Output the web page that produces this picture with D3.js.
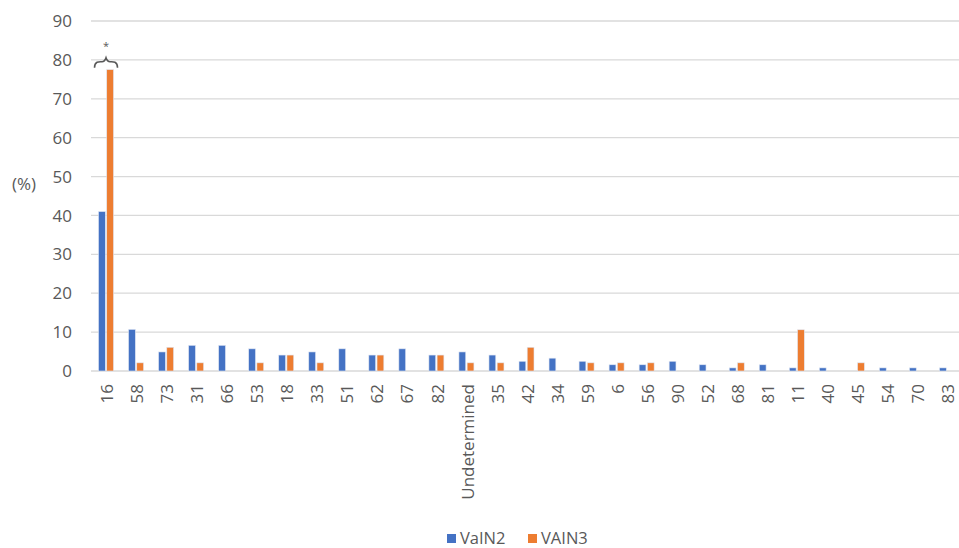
<!DOCTYPE html>
<html><head><meta charset="utf-8">
<script src="https://cdn.jsdelivr.net/npm/d3@7"></script>
<style>body{margin:0;background:#fff;} text{font-family:"Open Sans",sans-serif;fill:#595959;}</style>
</head><body><svg id="c" width="959" height="548"></svg>
<script>
const categories = ["16","58","73","31","66","53","18","33","51","62","67","82","Undetermined","35","42","34","59","6","56","90","52","68","81","11","40","45","54","70","83"];
const vain2 = [41.0,10.7,4.9,6.6,6.6,5.7,4.1,4.9,5.7,4.1,5.7,4.1,4.9,4.1,2.5,3.3,2.5,1.6,1.6,2.5,1.6,0.8,1.6,0.8,0.8,0,0.8,0.8,0.8];
const vain3 = [77.5,2.1,6.1,2.1,0,2.1,4.1,2.1,0,4.1,0,4.1,2.1,2.1,6.1,0,2.1,2.1,2.1,0,0,2.1,0,10.6,0,2.1,0,0,0];
const yTicks = [0,10,20,30,40,50,60,70,80,90];
const seriesNames = ["VaIN2","VAIN3"];
const colors = ["#4472C4","#ED7D31"];

const svg = d3.select("#c");
const x = d3.scaleBand().domain(categories).range([91, 962]);
const y = d3.scaleLinear().domain([0,90]).range([371, 21]);
const bw = 6.8, gap = 1.4;

svg.append("g").selectAll("line").data(yTicks).join("line")
  .attr("x1",91).attr("x2",959).attr("y1",d=>y(d)).attr("y2",d=>y(d))
  .attr("stroke","#d9d9d9").attr("stroke-width",1.3);

svg.append("g").selectAll("text").data(yTicks).join("text")
  .attr("x",72).attr("y",d=>y(d)).attr("dy","0.36em").attr("text-anchor","end")
  .style("font-size","17px").text(d=>d);
svg.append("text").attr("x",12).attr("y",184).attr("dy","0.36em").style("font-size","17px").text("(%)");

const series = [vain2, vain3];
series.forEach((vals,si)=>{
  svg.append("g").selectAll("rect").data(categories).join("rect")
    .attr("x",(d)=>x(d)+x.bandwidth()/2 + (si===0 ? -bw-gap/2 : gap/2))
    .attr("width",bw)
    .attr("y",(d,i)=>y(vals[i]))
    .attr("height",(d,i)=>y(0)-y(vals[i]))
    .attr("fill",colors[si])
    .attr("stroke",(d,i)=>vals[i]>0?"#dfe6f3":"none").attr("stroke-width",0.6);
});

svg.append("g").selectAll("text").data(categories).join("text")
  .attr("transform",d=>`translate(${x(d)+x.bandwidth()/2+1},384) rotate(-90)`)
  .attr("text-anchor","end").attr("dy","0.36em")
  .style("font-size","17px").text(d=>d);

const cx = x(categories[0]) + x.bandwidth()/2;
const by = y(78.5);
svg.append("path")
  .attr("d",`M${cx-11.5},${by+2} C${cx-11.5},${by-5} ${cx-6},${by-4} ${cx-4},${by-4} C${cx-2},${by-4} ${cx-1},${by-5} ${cx},${by-8} C${cx+1},${by-5} ${cx+2},${by-4} ${cx+4},${by-4} C${cx+6},${by-4} ${cx+11.5},${by-5} ${cx+11.5},${by+2}`)
  .attr("fill","none").attr("stroke","#595959").attr("stroke-width",1.6);
svg.append("text").attr("x",cx).attr("y",y(84.5)).attr("text-anchor","middle").attr("dy","0.7em")
  .style("font-size","11px").text("*");

const leg = svg.append("g");
const lx = [447, 528];
seriesNames.forEach((n,i)=>{
  leg.append("rect").attr("x",lx[i]).attr("y",534).attr("width",9).attr("height",9).attr("fill",colors[i]);
  leg.append("text").attr("x",lx[i]+13).attr("y",538.5).attr("dy","0.36em").style("font-size","16.5px").text(n);
});
</script></body></html>
